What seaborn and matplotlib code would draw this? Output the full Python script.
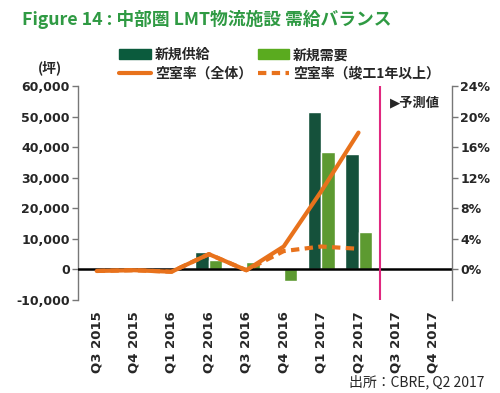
import numpy as np
import pandas as pd
import seaborn as sns
import matplotlib.pyplot as plt
from matplotlib.patches import Patch
from matplotlib.lines import Line2D
from matplotlib.ticker import FuncFormatter

# data
quarters = ['Q3 2015', 'Q4 2015', 'Q1 2016', 'Q2 2016', 'Q3 2016',
            'Q4 2016', 'Q1 2017', 'Q2 2017', 'Q3 2017', 'Q4 2017']
actual_quarters = quarters[:8]
supply = [0, 0, 0, 5800, 0, 0, 51600, 37900]          # 新規供給 (坪)
demand = [0, 0, 0, 3000, 2500, -3800, 38400, 12200]   # 新規需要 (坪)
vacancy_all = [-0.2, -0.1, -0.3, 2.0, -0.1, 3.0, 10.2, 17.9]   # 空室率（全体） %
vacancy_old = [-0.2, -0.1, -0.3, 2.0, -0.1, 2.4, 3.0, 2.7]     # 空室率（竣工1年以上） %

dark_green = '#0b5b3d'
light_green = '#5aab1f'
orange = '#e8721c'
magenta = '#e0287f'
title_green = '#2f9a43'

sns.set_style('white')
plt.rcParams['font.family'] = ['DejaVu Sans', 'Noto Sans CJK JP']
cjk = ['Noto Sans CJK JP', 'DejaVu Sans']

df = pd.DataFrame({
    'quarter': actual_quarters * 2,
    'series': ['新規供給'] * len(supply) + ['新規需要'] * len(demand),
    'value': supply + demand,
})

fig = plt.figure(figsize=(5, 3.93), dpi=100)
ax = fig.add_axes([0.156, 0.2366, 0.748, 0.5446])

sns.barplot(data=df, x='quarter', y='value', hue='series', order=quarters,
            palette=[dark_green, light_green], width=0.72, gap=0,
            legend=False, ax=ax, zorder=2)
ax.axhline(0, color='black', lw=1.8, zorder=3)
ax.set_xlim(-0.5, len(quarters) - 0.5)
ax.set_ylim(-10000, 60000)
ax.set_yticks(range(-10000, 60001, 10000))
ax.yaxis.set_major_formatter(FuncFormatter(lambda v, p: f'{int(v):,}'))
ax.set_xlabel('')
ax.set_ylabel('')
ax.tick_params(axis='x', rotation=90, labelsize=9.5, length=0, pad=8)
ax.tick_params(axis='y', labelsize=9, length=4, width=1, color='#777777',
               direction='out', pad=2)
for lab in ax.get_xticklabels() + ax.get_yticklabels():
    lab.set_fontweight('bold')
for s in ['top', 'bottom', 'right']:
    ax.spines[s].set_visible(False)
ax.spines['left'].set_color('#777777')
ax.spines['left'].set_linewidth(1)

ax2 = ax.twinx()
xpos = [quarters.index(q) for q in actual_quarters]
sns.lineplot(x=xpos, y=vacancy_all, color=orange, lw=3, ax=ax2,
             solid_joinstyle='round', solid_capstyle='round', zorder=4)
sns.lineplot(x=xpos, y=vacancy_old, color=orange, lw=3, ax=ax2,
             linestyle=(0, (2, 1.3)), zorder=5)
ax2.axvline(7.57, color=magenta, lw=1.5, zorder=6)
ax2.set_ylim(-4, 24)
ax2.set_yticks(range(0, 25, 4))
ax2.yaxis.set_major_formatter(FuncFormatter(lambda v, p: f'{int(v)}%'))
ax2.tick_params(axis='y', labelsize=9, length=4, width=1, color='#777777',
                direction='out', pad=2)
for lab in ax2.get_yticklabels():
    lab.set_fontweight('bold')
for s in ['top', 'bottom', 'left']:
    ax2.spines[s].set_visible(False)
ax2.spines['right'].set_color('#777777')
ax2.spines['right'].set_linewidth(1)
ax2.set_ylabel('')

# title and annotations
fig.text(0.044, 0.95, 'Figure 14 : 中部圏 LMT物流施設 需給バランス', color=title_green,
         fontsize=12.8, fontweight='bold', va='center', ha='left', family=cjk)
fig.text(0.1, 0.828, '(坪)', fontsize=10, fontweight='bold', ha='center', va='center',
         family=cjk)
fig.text(0.78, 0.738, '▶予測値', fontsize=9.5, fontweight='bold', ha='left', va='center')
fig.text(0.968, 0.028, '出所：CBRE, Q2 2017', fontsize=10, ha='right', va='center',
         family=cjk)

handles = [Patch(color=dark_green), Line2D([], [], color=orange, lw=3),
           Patch(color=light_green), Line2D([], [], color=orange, lw=3, linestyle=(0, (2, 1.3)))]
labels = ['新規供給', '空室率（全体）', '新規需要', '空室率（竣工1年以上）']
fig.legend(handles, labels, loc='upper left', bbox_to_anchor=(0.225, 0.895), ncol=2,
           frameon=False, handlelength=2.3, handletextpad=0.25,
           columnspacing=0.4, labelspacing=0.3, borderpad=0,
           prop={'family': cjk, 'size': 10, 'weight': 'bold'})

fig.savefig('out.png', dpi=100)
